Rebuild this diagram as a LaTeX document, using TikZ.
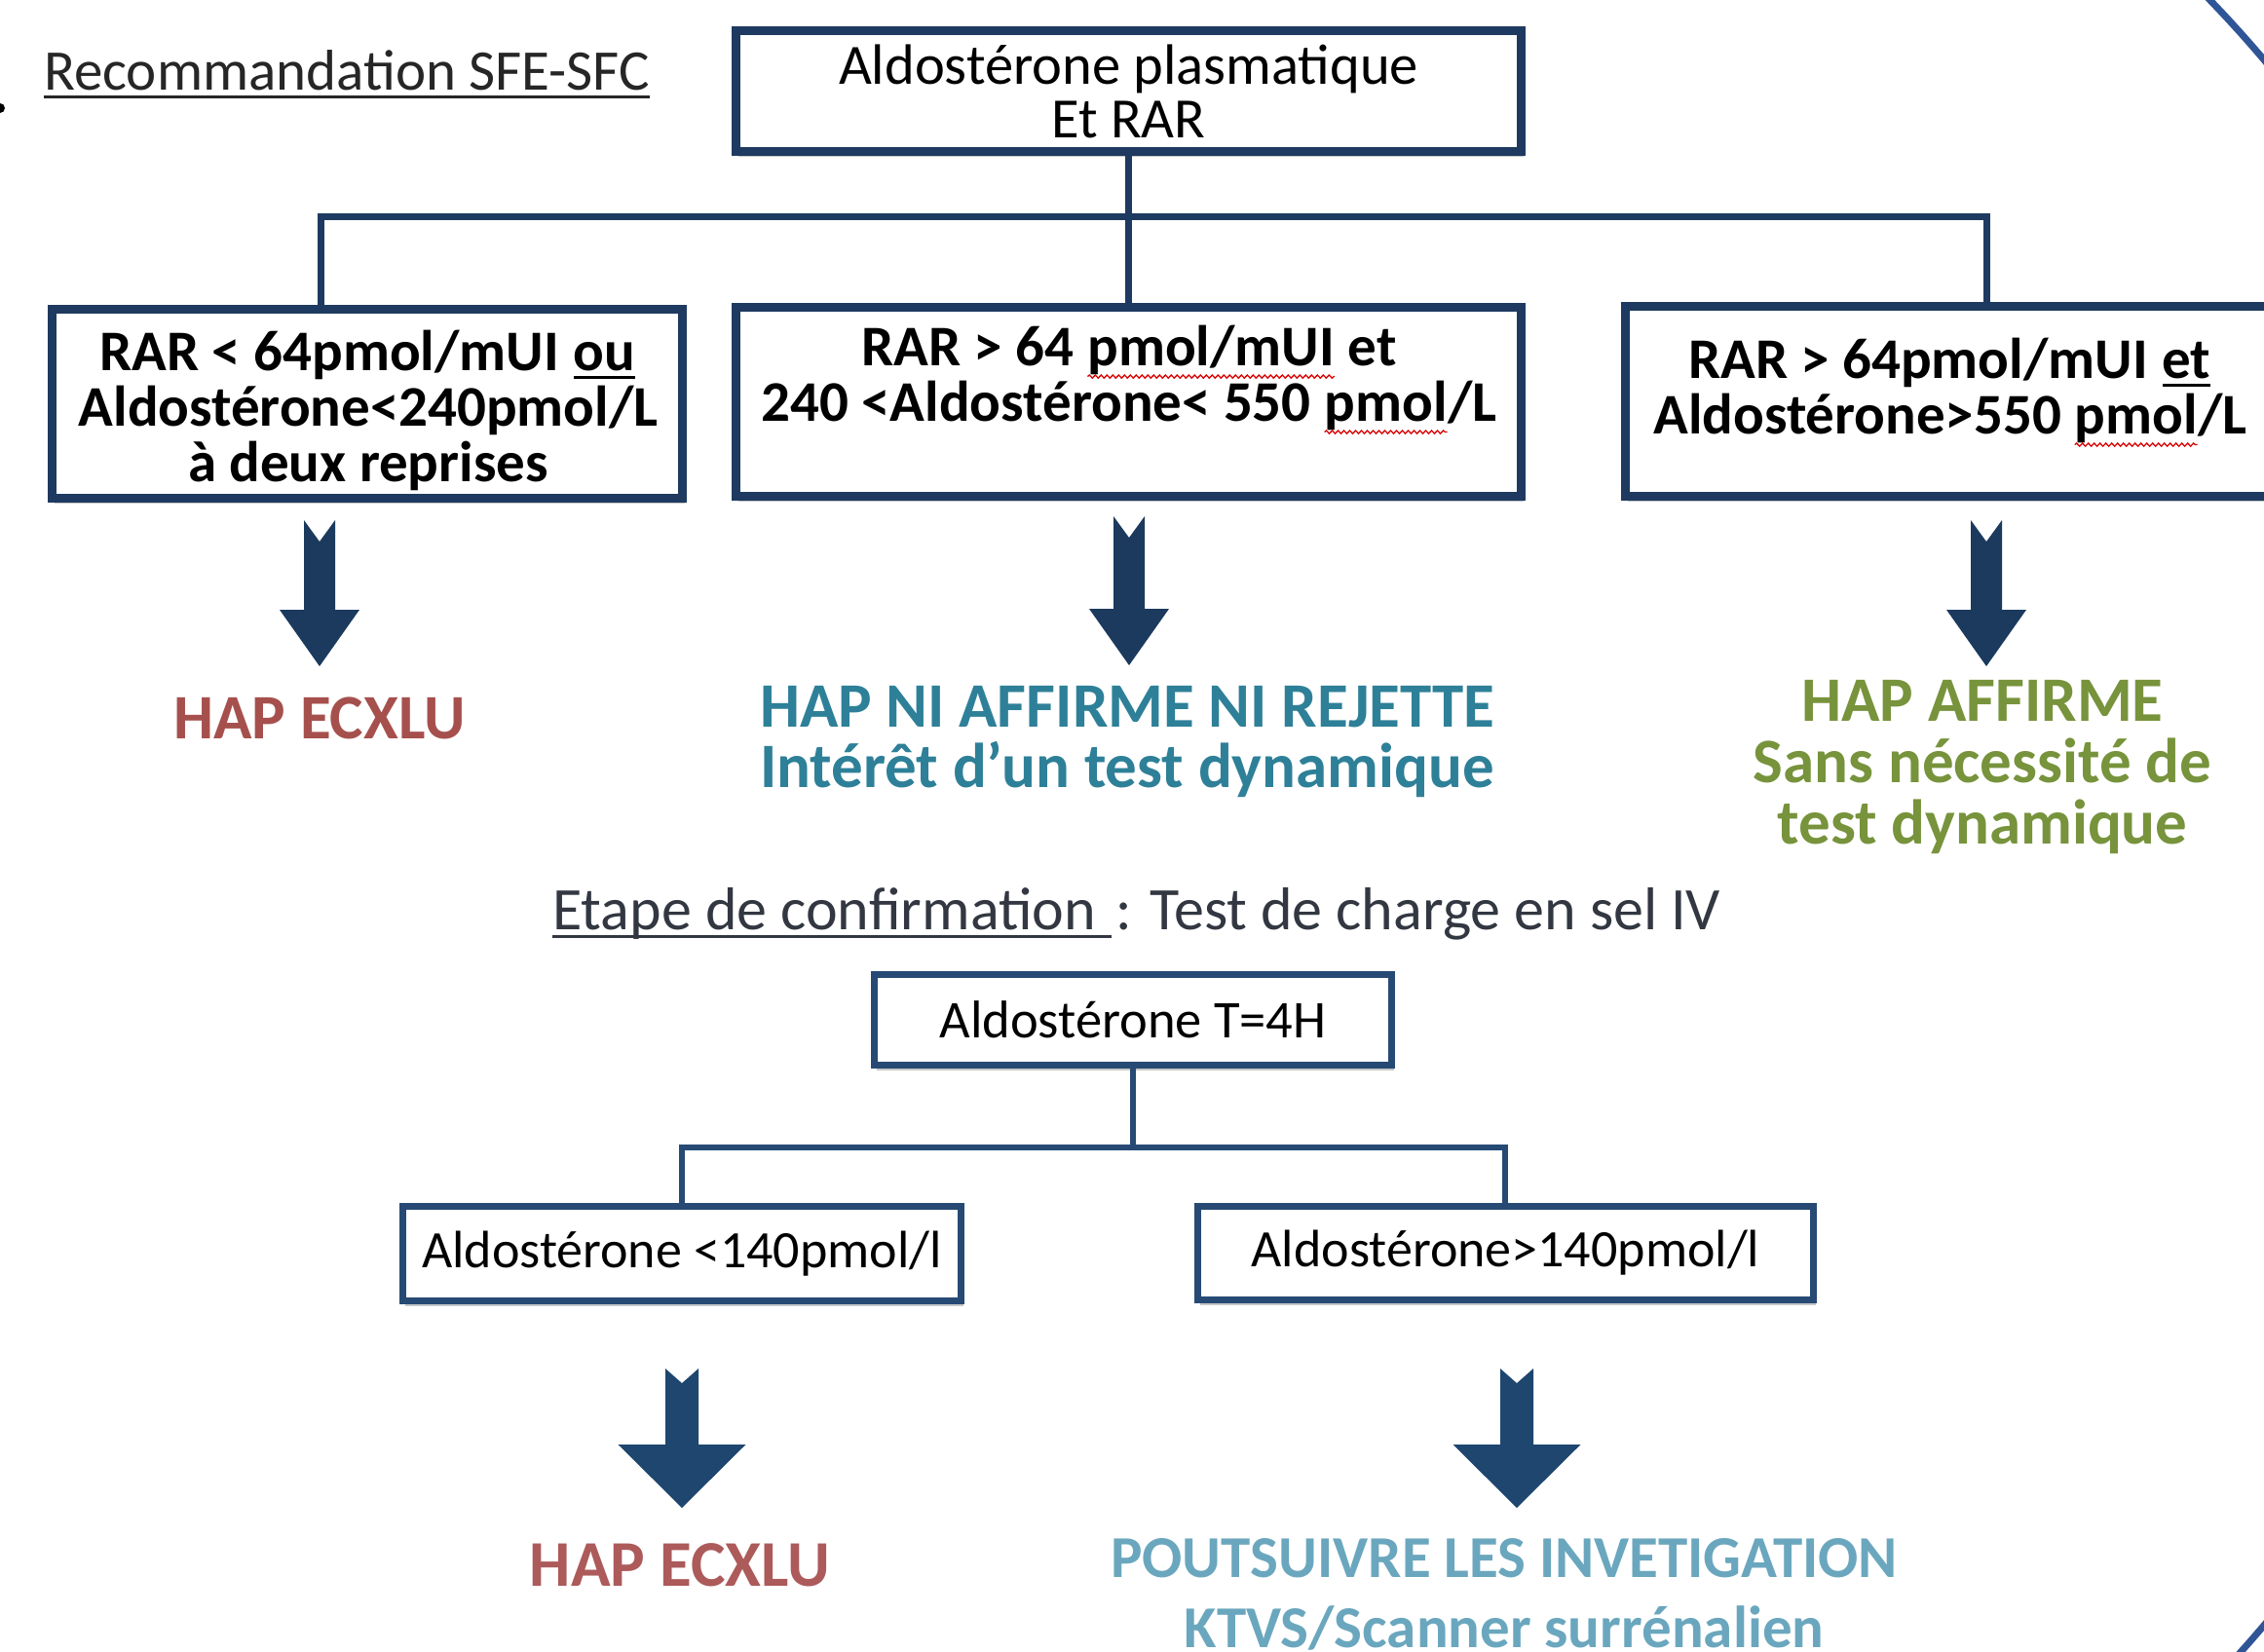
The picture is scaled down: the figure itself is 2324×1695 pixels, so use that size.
\documentclass[tikz,border=0pt]{standalone}
\usepackage{fontspec}
\setmainfont{Carlito}
\usetikzlibrary{shadows,decorations.pathmorphing,calc}

\definecolor{navy}{RGB}{30,58,96}
\definecolor{navytwo}{RGB}{38,74,116}
\definecolor{arrowfill}{RGB}{27,58,94}
\definecolor{arrowfilltwo}{RGB}{30,70,110}
\definecolor{hapred}{RGB}{166,80,77}
\definecolor{hapredtwo}{RGB}{172,90,90}
\definecolor{tealtxt}{RGB}{46,128,152}
\definecolor{tealtwo}{RGB}{106,167,190}
\definecolor{greentxt}{RGB}{119,147,60}
\definecolor{slate}{RGB}{50,55,65}
\definecolor{arcblue}{RGB}{47,85,151}

\newcommand\ulined[1]{\tikz[baseline=(U.base)]{\node[inner sep=0pt,outer sep=0pt,minimum width=0pt,minimum height=0pt](U){#1};\draw[line width=3pt]([yshift=-7pt]U.base west)--([yshift=-7pt]U.base east);}}
\newcommand\wavy[1]{\tikz[baseline=(W.base)]{\node[inner sep=0pt,outer sep=0pt,minimum width=0pt,minimum height=0pt](W){#1};\draw[red!85!black,line width=1.3pt,decorate,decoration={snake,amplitude=1.6pt,segment length=6pt}]([yshift=-11pt]W.base west)--([yshift=-11pt]W.base east);}}

\tikzset{
  box/.style={draw=navy, line width=9pt, fill=white, inner sep=0pt, align=center,
    drop shadow={shadow xshift=2pt, shadow yshift=-5pt, opacity=0.22, fill=black}},
  boxtwo/.style={box, draw=navytwo, line width=7pt},
  conn/.style={draw=navy, line width=7pt},
  conntwo/.style={draw=navytwo, line width=6pt},
  outtxt/.style={font=\fontsize{65}{62}\selectfont\bfseries, align=center, inner sep=0pt},
  boldtxt/.style={font=\fontsize{59}{57}\selectfont\bfseries, align=center, inner sep=0pt},
  pics/blockarrow/.style n args={5}{code={
    \fill[pic actions] (-#1/2,0) -- (0,#5) -- (#1/2,0) -- (#1/2,#4) -- (#2/2,#4) -- (0,#3) -- (-#2/2,#4) -- (-#1/2,#4) -- cycle;
  }}
}

\begin{document}
\begin{tikzpicture}[x=1pt,y=-1pt]
\useasboundingbox (0,0) rectangle (2324,1695);
\clip (0,0) rectangle (2324,1695);

% corner arcs of the frame
\begin{scope}
  \clip (2150,0) rectangle (2324,1695);
  \draw[arcblue, line width=7pt] (1373,865) circle[radius=1245];
\end{scope}

% bullet remnant
\fill[black] (0,111) circle[radius=5];

% title
\node[font=\fontsize{59}{60}\selectfont, text=black!85, inner sep=0pt] (title) at (356,76) {\ulined{Recommandation SFE-SFC}};

% upper boxes
\node[box, minimum width=806pt, minimum height=124pt, font=\fontsize{58.5}{55}\selectfont] (top) at (1158.5,93.5) {Aldostérone plasmatique\\Et RAR};
\node[box, minimum width=647pt, minimum height=194pt] (left) at (377,414.5) {};
\node[box, minimum width=806pt, minimum height=194pt] (mid) at (1158.5,412.5) {};
\node[box, minimum width=667pt, minimum height=195pt] (right) at (2002,412) {};
\node[boldtxt] (lefttxt) at (378,421) {RAR < 64pmol/mUI \ulined{ou}\\Aldostérone<240pmol/L\\à deux reprises};
\node[boldtxt] (midtxt) at (1159,390) {RAR > 64 \wavy{pmol/mUI} et\\240 <Aldostérone< 550 \wavy{pmol}/L};
\node[boldtxt] (righttxt) at (2002,403) {RAR > 64pmol/mUI \ulined{et}\\Aldostérone>550 \wavy{pmol}/L};

% upper connectors
\coordinate (b1) at (329,222);
\coordinate (b2) at (2039,222);
\draw[conn] (top.south) -- (mid.north);
\draw[conn] (b1 |- left.north) -- (b1) -- (b2) -- (b2 |- right.north);

% upper block arrows
\pic[fill=arrowfill] (arL) at (328,534) {blockarrow={32}{82}{150}{92}{22}};
\pic[fill=arrowfill] (arM) at (1159,530) {blockarrow={32}{82}{153}{95}{22}};
\pic[fill=arrowfill] (arR) at (2039,534) {blockarrow={32}{82}{150}{92}{22}};

% upper outcomes
\node[outtxt, text=hapred] (out1) at (328,737) {HAP ECXLU};
\node[outtxt, text=tealtxt] (out2) at (1157,762) {HAP NI AFFIRME NI REJETTE\\Intérêt d’un test dynamique};
\node[outtxt, font=\fontsize{65}{63}\selectfont\bfseries, text=greentxt] (out3) at (2035,788) {HAP AFFIRME\\Sans nécessité de\\test dynamique};

% confirmation step
\node[font=\fontsize{62}{70}\selectfont, text=slate, inner sep=0pt] (etape) at (1166,938) {\ulined{Etape de confirmation\hspace*{0.25em}}\hspace{0.05em}: Test de charge en sel IV};

% lower boxes
\node[boxtwo, minimum width=531pt, minimum height=93pt, font=\fontsize{54.5}{60}\selectfont] (t4h) at (1163,1047) {Aldostérone T=4H};
\node[boxtwo, minimum width=573pt, minimum height=97pt, font=\fontsize{54}{60}\selectfont] (lowL) at (700,1287) {Aldostérone <140pmol/l};
\node[boxtwo, minimum width=632pt, minimum height=96pt, font=\fontsize{54}{60}\selectfont] (lowR) at (1545.5,1286.5) {Aldostérone>140pmol/l};

% lower connectors
\coordinate (c1) at (700,1178);
\coordinate (c2) at (1545,1178);
\draw[conntwo] (t4h.south) -- (t4h.south |- c1);
\draw[conntwo] (c1 |- lowL.north) -- (c1) -- (c2) -- (c2 |- lowR.north);

% lower block arrows
\pic[fill=arrowfilltwo] (arLL) at (700,1405) {blockarrow={34}{131}{143}{78}{15}};
\pic[fill=arrowfilltwo] (arLR) at (1557,1405) {blockarrow={34}{131}{143}{78}{15}};

% lower outcomes
\node[outtxt, font=\fontsize{67}{62}\selectfont\bfseries, text=hapredtwo] (out4) at (698,1607) {HAP ECXLU};
\node[outtxt, font=\fontsize{61}{72}\selectfont\bfseries, text=tealtwo] (out5) at (1544,1637) {POUTSUIVRE LES INVETIGATION\\KTVS/Scanner surrénalien};
\end{tikzpicture}
\end{document}
